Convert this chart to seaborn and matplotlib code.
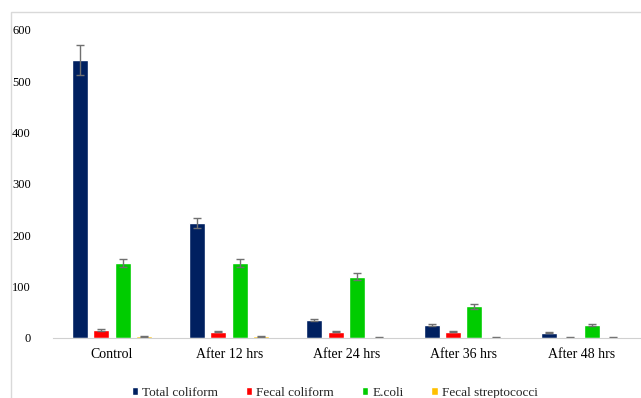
import numpy as np
import pandas as pd
import matplotlib
matplotlib.use("Agg")
import matplotlib.pyplot as plt
import seaborn as sns
from matplotlib.patches import Rectangle

# values
stages = ['Control', 'After 12 hrs', 'After 24 hrs', 'After 36 hrs', 'After 48 hrs']
groups = ['Total coliform', 'Fecal coliform', 'E.coli', 'Fecal streptococci']
total_coliform = [542, 224, 35, 25, 10]
fecal_coliform = [16, 12, 12, 12, 1]
e_coli = [146, 146, 119, 62, 25]
fecal_strep = [3, 3, 1, 1, 1]
total_err = [29, 10, 2, 2, 1]
fecal_err = [2, 1, 1, 1, 0.5]
ecoli_err = [8, 7, 7, 5, 2]
strep_err = [1, 1, 0.5, 0.5, 0.5]

colors = ['#002060', '#FF0000', '#00CC00', '#FFC000']

rows = []
for g, vals, errs in zip(groups, [total_coliform, fecal_coliform, e_coli, fecal_strep],
                         [total_err, fecal_err, ecoli_err, strep_err]):
    for s, v, e in zip(stages, vals, errs):
        rows.append({'Stage': s, 'Group': g, 'Count': v, 'Err': e})
df = pd.DataFrame(rows)

sns.set_style('white')
plt.rcParams['font.family'] = ['Liberation Serif', 'DejaVu Serif']

fig = plt.figure(figsize=(6.41, 3.98), dpi=100)
ax = fig.add_axes([0.083, 0.151, 0.915, 0.774])

sns.barplot(data=df, x='Stage', y='Count', hue='Group', order=stages, hue_order=groups,
            palette=colors, width=0.73, gap=0.25, errorbar=None, saturation=1, ax=ax)

# error bars on each bar
for container, g in zip(ax.containers, groups):
    sub = df[df['Group'] == g].set_index('Stage').loc[stages]
    xs = [p.get_x() + p.get_width() / 2 for p in container]
    ax.errorbar(xs, sub['Count'], yerr=sub['Err'], fmt='none', ecolor='#707070',
                elinewidth=1, capsize=3, capthick=1)

ax.set_ylim(0, 600)
ax.set_yticks(range(0, 601, 100))
ax.set_xlim(-0.5, 4.5)
ax.set_xlabel('')
ax.set_ylabel('')
for sp in ['top', 'right', 'left']:
    ax.spines[sp].set_visible(False)
ax.spines['bottom'].set_color('#d0d0d0')
ax.tick_params(axis='both', length=0, colors='black')
ax.tick_params(axis='y', pad=16, labelsize=9)
ax.tick_params(axis='x', pad=7, labelsize=10)

handles, labels = ax.get_legend_handles_labels()
ax.legend(handles, labels, loc='upper center', bbox_to_anchor=(0.48, -0.12), ncol=4,
          frameon=False, fontsize=9.5, handlelength=0.5, handleheight=0.5,
          handletextpad=0.3, columnspacing=2.1)

# chart frame (cropped on the right and bottom)
fig.patches.append(Rectangle((11 / 641, -0.05), 1.1, 1.05 - 12 / 398, transform=fig.transFigure,
                             fill=False, edgecolor='#d9d9d9', linewidth=1))

fig.savefig('out.png', dpi=100)
